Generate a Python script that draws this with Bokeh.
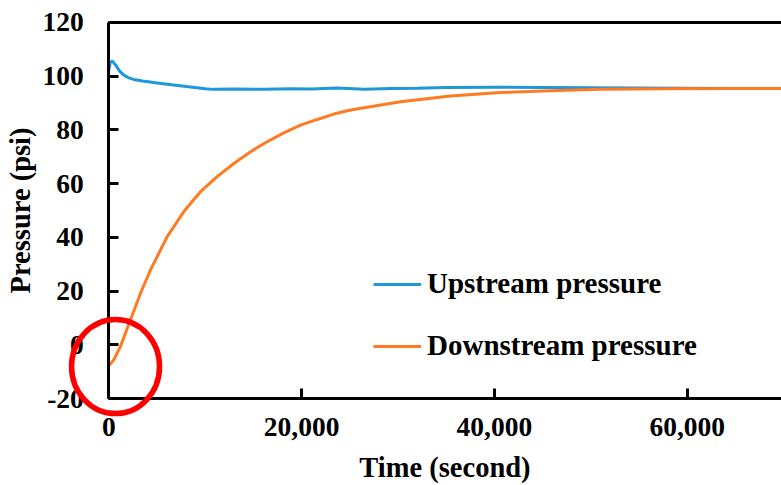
import numpy as np
from bokeh.plotting import figure
from bokeh.models import (Legend, LegendItem, NumeralTickFormatter, FixedTicker, Range1d,
                          LinearAxis)
from bokeh.embed import file_html
from bokeh.resources import INLINE

# ---- data ----
upstream_t = [0, 150, 350, 700, 1100, 1560, 2000, 2590, 3500, 5020, 6500, 8470, 10000, 10860,
              13000, 16050, 18900, 21000, 23700, 26500, 29300, 32000, 35000, 40000, 45000,
              50000, 55000, 60000, 65000, 70000]
upstream_p = [102.2, 105.0, 105.7, 104.2, 102.0, 100.4, 99.5, 98.8, 98.2, 97.5, 96.8, 96.0, 95.3,
              95.1, 95.2, 95.1, 95.3, 95.2, 95.6, 95.1, 95.4, 95.5, 95.8, 95.9, 95.8, 95.7, 95.6,
              95.5, 95.4, 95.4]

downstream_t = [0, 520, 1210, 2250, 3290, 4330, 6060, 7780, 9510, 11240, 12970, 14700, 16430,
                18150, 19890, 21620, 23340, 25070, 30260, 35440, 40630, 45820, 51000, 57950,
                64000, 70000]
downstream_p = [-7.8, -5.6, -0.6, 9.3, 19.2, 27.9, 40.3, 49.6, 57.0, 62.6, 67.5, 71.9, 75.6,
                78.9, 81.8, 83.9, 85.9, 87.4, 90.5, 92.6, 93.9, 94.6, 95.1, 95.3, 95.4, 95.4]

x_ticks = [0, 20000, 40000, 60000]
y_ticks = [-20, 0, 20, 40, 60, 80, 100, 120]
series_names = ["Upstream pressure", "Downstream pressure"]
x_title = "Time (second)"
y_title = "Pressure (psi)"

x_lo, x_hi = 0, 69780
y_lo, y_hi = -20, 120

# annotation (red circle) centre in data units
circle_x = [700]
circle_y = [-8.1]

FONT = "Liberation Serif"
BLUE = "#1e97db"
ORANGE = "#ff7b22"

# the frame covers the whole canvas so the red ring can extend beyond the axes;
# the axes are pinned at x=0 / y=-20 with fixed_location.
p = figure(width=781, height=485, output_backend="svg", toolbar_location=None,
           x_range=Range1d(-11234, x_hi), y_range=Range1d(-52.39, 128.19),
           min_border=0, x_axis_location=None, y_axis_location=None)

p.outline_line_color = None
p.xgrid.grid_line_color = None
p.ygrid.grid_line_color = None
p.background_fill_color = "white"
p.border_fill_color = "white"

xaxis = LinearAxis(fixed_location=y_lo, bounds=(x_lo, x_hi), ticker=FixedTicker(ticks=x_ticks),
                   formatter=NumeralTickFormatter(format="0,0"), axis_label=x_title)
yaxis = LinearAxis(fixed_location=x_lo, bounds=(y_lo, y_hi), ticker=FixedTicker(ticks=y_ticks),
                   formatter=NumeralTickFormatter(format="0"), axis_label=y_title)
p.add_layout(xaxis, "below")
p.add_layout(yaxis, "left")

for ax in (xaxis, yaxis):
    ax.axis_line_width = 3
    ax.axis_line_color = "black"
    ax.major_tick_line_width = 3
    ax.major_tick_line_color = "black"
    ax.major_tick_in = 10
    ax.major_tick_out = 0
    ax.minor_tick_line_color = None
    ax.major_label_text_font = FONT
    ax.major_label_text_font_style = "bold"
    ax.major_label_text_font_size = "27.5px"
    ax.major_label_text_color = "black"
    ax.axis_label_text_font = FONT
    ax.axis_label_text_font_style = "bold"
    ax.axis_label_text_font_size = "28.5px"
    ax.axis_label_text_color = "black"

xaxis.major_label_standoff = 19
yaxis.major_label_standoff = 25
xaxis.axis_label_standoff = 13
yaxis.axis_label_standoff = 3

# top border of the plotting area
top_axis = LinearAxis(fixed_location=y_hi, bounds=(x_lo, x_hi), ticker=FixedTicker(ticks=[]),
                      axis_line_width=3, axis_line_color="black",
                      major_tick_line_color=None, minor_tick_line_color=None,
                      major_label_text_color=None)
p.add_layout(top_axis, "above")

r_up = p.line(upstream_t, upstream_p, line_color=BLUE, line_width=3)
r_down = p.line(downstream_t, downstream_p, line_color=ORANGE, line_width=3)

ring = p.ellipse(x=circle_x, y=circle_y, width=88, height=94, width_units="screen",
                 height_units="screen", fill_color=None, line_color="#ff0000", line_width=5.5,
                 level="overlay")

legend = Legend(items=[LegendItem(label=series_names[0], renderers=[r_up]),
                       LegendItem(label=series_names[1], renderers=[r_down])],
                location=(373, 123), orientation="vertical",
                label_text_font=FONT, label_text_font_style="bold",
                label_text_font_size="29px", label_text_color="black",
                glyph_width=48, glyph_height=30, label_height=30, label_standoff=6,
                spacing=29, padding=0, margin=0,
                border_line_color=None, background_fill_alpha=0)
p.add_layout(legend, "center")

open("out.html", "w").write(file_html(p, INLINE))
